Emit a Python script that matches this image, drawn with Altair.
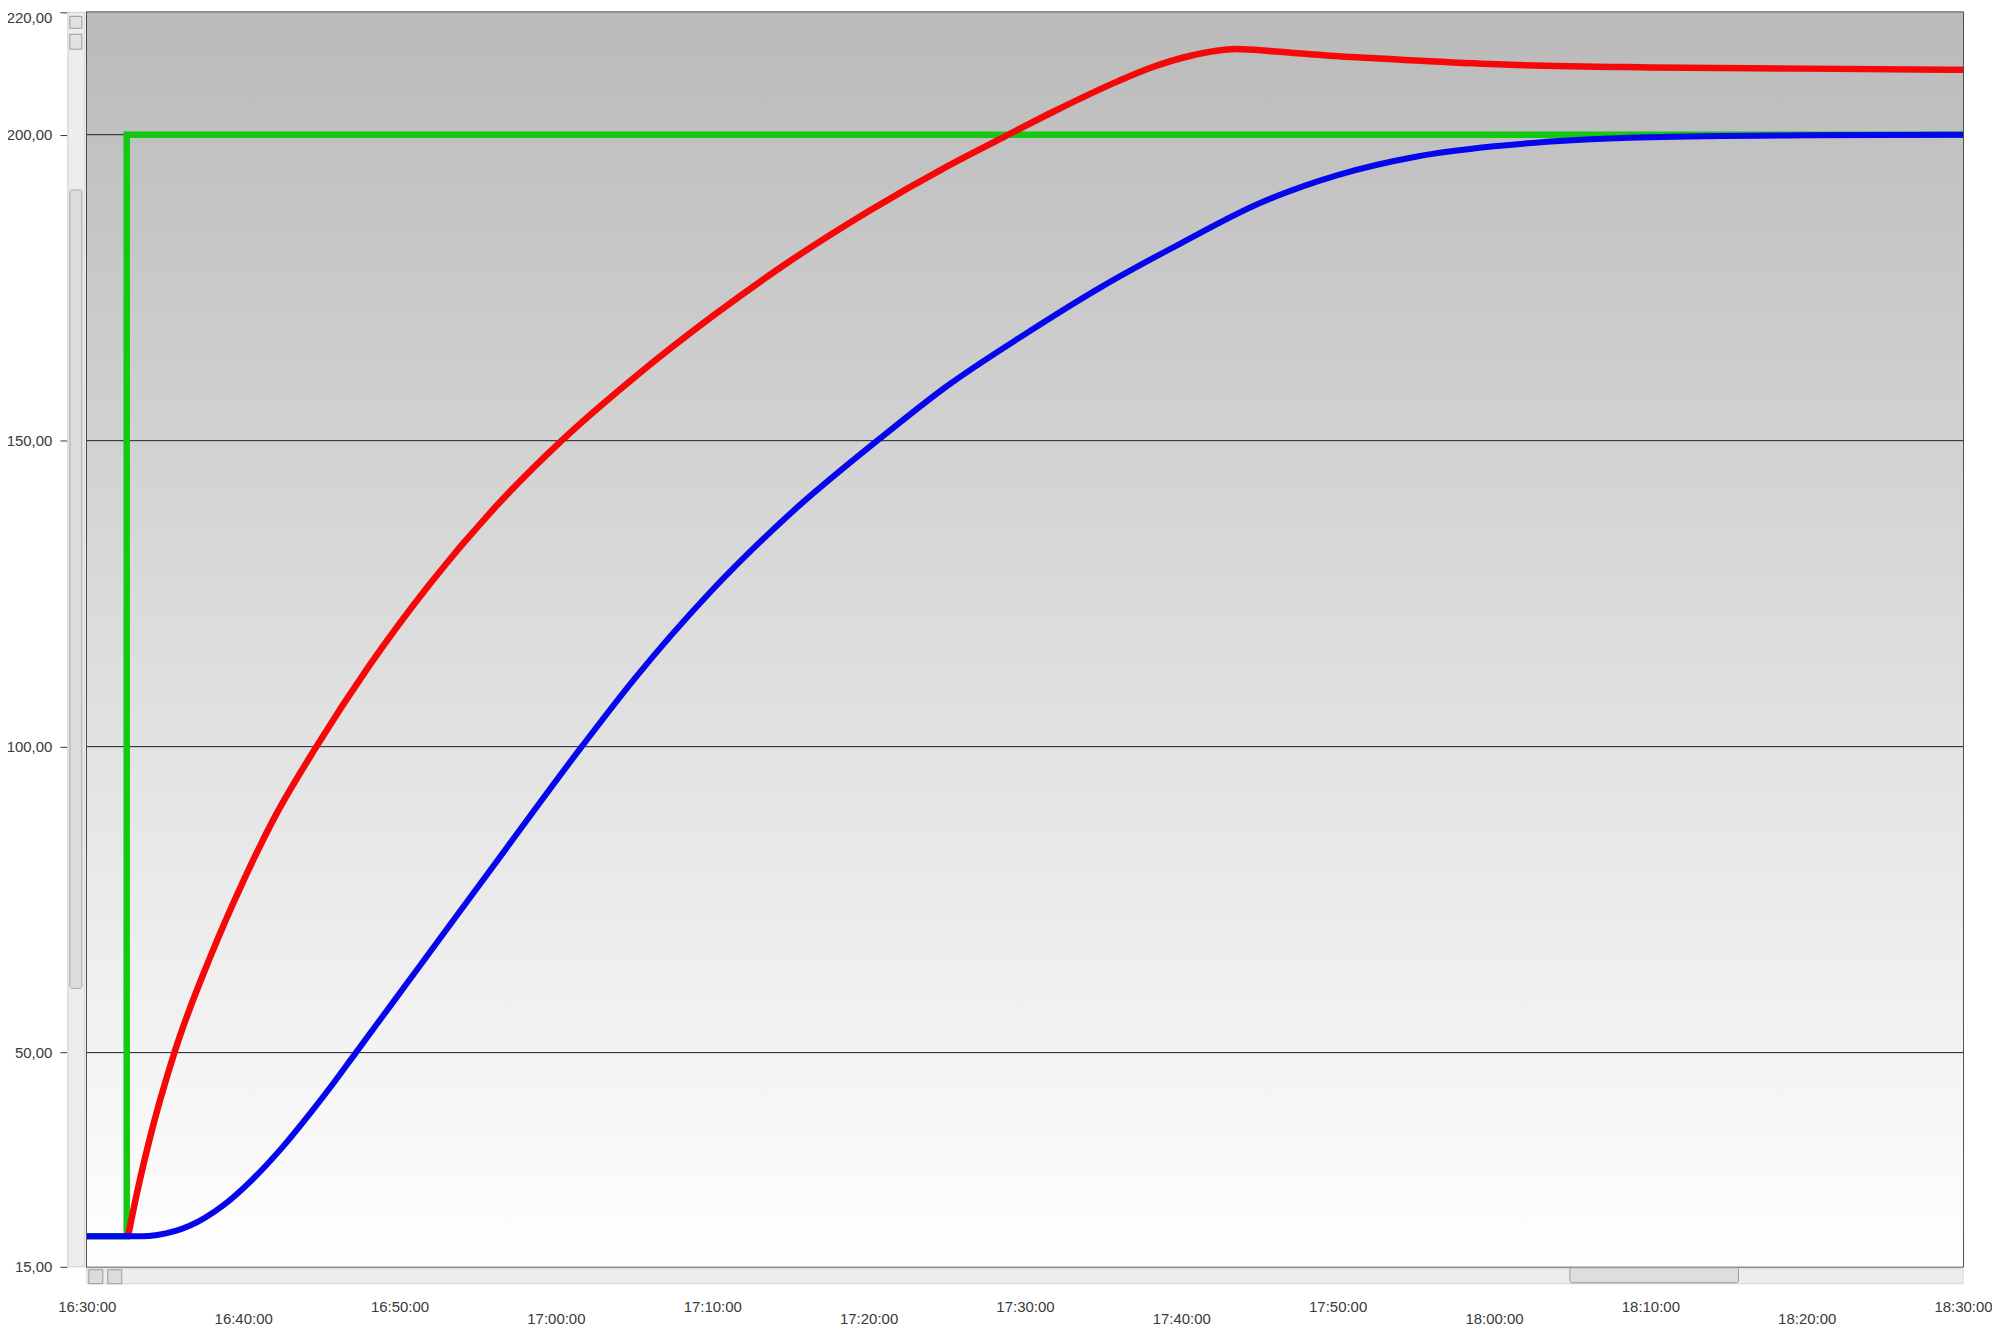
import altair as alt
import pandas as pd

# ---- axis ticks (minutes after 16:30:00) and value ticks ----
X_TICKS = [0, 10, 20, 30, 40, 50, 60, 70, 80, 90, 100, 110, 120]
Y_TICKS = [15, 50, 100, 150, 200, 220]
GRID_LEVELS = [50, 100, 150, 200]

# ---- series: green setpoint ----
setpoint_t = [0, 2.55, 2.55, 120]
setpoint_v = [20, 20, 200, 200]

# ---- series: red ----
red_t = [2.66, 3.0, 4.0, 5.64, 8.0, 10.0, 12.0, 14.68, 18.0, 22.0, 26.0, 30.4,
         35.0, 40.0, 45.0, 50.0, 55.0, 58.7, 62.0, 66.0, 68.0, 70.6, 73.5, 76.0,
         79.5, 83.8, 90.2, 100, 110, 120]
red_v = [20.3, 24.6, 35.7, 50.3, 66.3, 78.0, 88.4, 100, 113.0, 126.8, 138.8, 150.1,
         160.3, 170.3, 179.4, 187.5, 194.8, 199.7, 204.0, 208.8, 210.9, 212.9, 214.0, 213.6,
         212.9, 212.3, 211.5, 211.0, 210.8, 210.6]

# ---- series: blue ----
blue_t = [0, 3.5, 4.5, 6.57, 8.7, 10.6, 12.53, 14.23, 15.83, 17.21, 18.91, 20.51,
          22.1, 26.0, 31.65, 35.0, 40.0, 45.0, 50.65, 55.0, 60.0, 65.0, 70.0, 75.0,
          80.0, 85.0, 90.0, 95.0, 100, 110, 120]
blue_v = [20, 20, 20.2, 21.7, 25.0, 29.3, 34.6, 39.9, 45.2, 50, 55.9, 61.45,
          66.97, 80.5, 100, 111.0, 125.6, 138.1, 150.2, 158.9, 167.4, 175.3, 182.3, 188.8,
          193.4, 196.4, 198.1, 199.1, 199.6, 199.9, 200]

W, H = 1880, 1257
FONT = "Liberation Sans"
LABEL_COLOR = "#3a3a3a"

x_scale = alt.Scale(domain=[0, 120], nice=False, zero=False)
y_scale = alt.Scale(domain=[15, 220], nice=False, zero=False)

x_axis = alt.Axis(
    values=X_TICKS,
    labelExpr="timeFormat(datetime(2000, 0, 1, 16, 30 + datum.value, 0), '%H:%M:%S')",
    grid=False, domain=False, ticks=False, title=None,
    labelFont=FONT, labelFontSize=15, labelColor=LABEL_COLOR,
    labelFlush=False, labelOverlap=False,
    labelPadding={"condition": {"test": "datum.value % 20 == 10", "value": 45}, "value": 33},
)
y_axis = alt.Axis(
    values=Y_TICKS,
    labelExpr="replace(format(datum.value, '.2f'), '.', ',')",
    grid=False, domain=False, title=None,
    tickSize=7, tickColor="#333333", tickWidth=1, offset=20, labelPadding=8,
    labelFont=FONT, labelFontSize=15, labelColor=LABEL_COLOR,
    labelFlush=False, labelOverlap=False,
    labelOffset={"condition": {"test": "datum.value == 220", "value": 5}, "value": 0},
)

one = alt.Data(values=[{"k": 0}])

gradient = alt.LinearGradient(
    gradient="linear",
    stops=[alt.GradientStop(color="#bababa", offset=0),
           alt.GradientStop(color="#ffffff", offset=1)],
    x1=0, x2=0, y1=0, y2=1,
)

bg = alt.Chart(one).mark_rect(fill=gradient).encode(
    x=alt.value(0), x2=alt.value(W), y=alt.value(0), y2=alt.value(H)
)

# scrollbar chrome
vstrip = alt.Chart(one).mark_rect(fill="#ededed", stroke="#cdcdcd", strokeWidth=1).encode(
    x=alt.value(-19), x2=alt.value(-2), y=alt.value(0), y2=alt.value(H)
)
vthumb = alt.Chart(one).mark_rect(fill="#dcdcdc", stroke="#a8a8a8", strokeWidth=1, cornerRadius=2).encode(
    x=alt.value(-17), x2=alt.value(-5), y=alt.value(178), y2=alt.value(978)
)
vbtn1 = alt.Chart(one).mark_rect(fill="#e2e2e2", stroke="#9a9a9a", strokeWidth=1).encode(
    x=alt.value(-17), x2=alt.value(-5), y=alt.value(4), y2=alt.value(16)
)
vbtn2 = alt.Chart(one).mark_rect(fill="#e2e2e2", stroke="#9a9a9a", strokeWidth=1).encode(
    x=alt.value(-17), x2=alt.value(-5), y=alt.value(22), y2=alt.value(37)
)
hstrip = alt.Chart(one).mark_rect(fill="#ededed", stroke="#d5d5d5", strokeWidth=1).encode(
    x=alt.value(0), x2=alt.value(W), y=alt.value(H + 2), y2=alt.value(H + 17)
)
hthumb = alt.Chart(one).mark_rect(fill="#dedede", stroke="#9a9a9a", strokeWidth=1, cornerRadius=2).encode(
    x=alt.value(1486), x2=alt.value(1655), y=alt.value(H + 1), y2=alt.value(H + 16)
)
hbtn1 = alt.Chart(one).mark_rect(fill="#dcdcdc", stroke="#9a9a9a", strokeWidth=1).encode(
    x=alt.value(2), x2=alt.value(16), y=alt.value(H + 3), y2=alt.value(H + 17)
)
hbtn2 = alt.Chart(one).mark_rect(fill="#dcdcdc", stroke="#9a9a9a", strokeWidth=1).encode(
    x=alt.value(21), x2=alt.value(35), y=alt.value(H + 3), y2=alt.value(H + 17)
)

grid = alt.Chart(pd.DataFrame({"level": GRID_LEVELS})).mark_rule(color="#1e1e1e", strokeWidth=1).encode(
    y=alt.Y("level:Q", scale=y_scale, axis=y_axis)
)

green = alt.Chart(pd.DataFrame({"t": setpoint_t, "v": setpoint_v, "i": list(range(len(setpoint_t)))})).mark_line(
    color="#14c814", strokeWidth=6.5, interpolate="linear").encode(
    x=alt.X("t:Q", scale=x_scale, axis=x_axis),
    y=alt.Y("v:Q", scale=y_scale, axis=y_axis),
    order=alt.Order("i:Q"),
)
red = alt.Chart(pd.DataFrame({"t": red_t, "v": red_v})).mark_line(
    color="#f70808", strokeWidth=6.5, interpolate="monotone").encode(
    x=alt.X("t:Q", scale=x_scale, axis=x_axis),
    y=alt.Y("v:Q", scale=y_scale, axis=y_axis),
)
blue = alt.Chart(pd.DataFrame({"t": blue_t, "v": blue_v})).mark_line(
    color="#0505ee", strokeWidth=6, interpolate="monotone").encode(
    x=alt.X("t:Q", scale=x_scale, axis=x_axis),
    y=alt.Y("v:Q", scale=y_scale, axis=y_axis),
)

chart = alt.layer(
    bg, grid, green, red, blue,
    vstrip, vthumb, vbtn1, vbtn2, hstrip, hthumb, hbtn1, hbtn2,
).properties(
    width=W, height=H,
    autosize=alt.AutoSizeParams(type="none"),
    padding={"left": 79, "top": 3, "right": 29, "bottom": 61},
    background="white",
).configure_view(
    stroke="#1e1e1e", strokeWidth=1.5
)

chart.save("out.html", embed_options={"renderer": "svg", "actions": False})
